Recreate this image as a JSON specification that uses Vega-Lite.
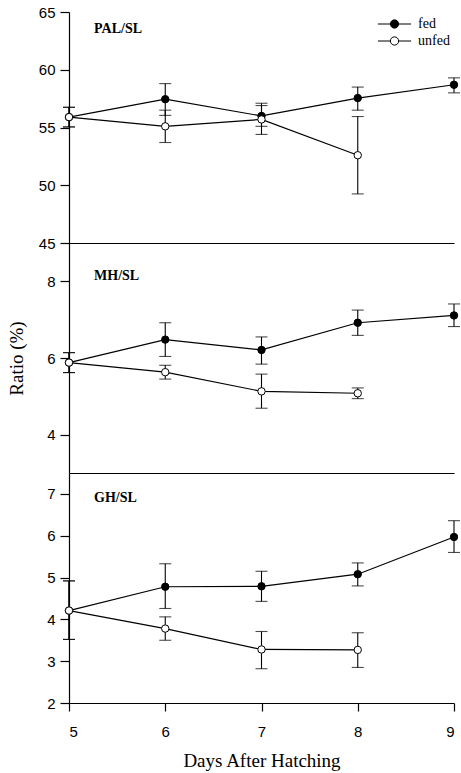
{
  "$schema": "https://vega.github.io/schema/vega-lite/v6.json",
  "background": "white",
  "padding": {"left": 7, "top": 5, "right": 2, "bottom": 4},
  "spacing": 0,
  "bounds": "flush",
  "config": {
    "view": {"stroke": null},
    "axis": {
      "domainColor": "black", "domainWidth": 1.2, "tickColor": "black", "tickWidth": 1.2,
      "labelColor": "black", "labelFont": "Liberation Sans", "labelFontSize": 15,
      "titleColor": "black", "titleFont": "Liberation Serif", "titleFontSize": 19, "titleFontWeight": "normal",
      "grid": false
    }
  },
  "resolve": {"scale": {"fill": "independent"}, "legend": {"fill": "independent"}},
  "datasets": {
    "obs": [
      {"panel": "PAL/SL", "day": 5, "group": "fed", "mean": 55.9, "lo": 55.05, "hi": 56.75},
      {"panel": "PAL/SL", "day": 5, "group": "unfed", "mean": 55.9, "lo": 55.05, "hi": 56.75},
      {"panel": "PAL/SL", "day": 6, "group": "fed", "mean": 57.45, "lo": 56.05, "hi": 58.8},
      {"panel": "PAL/SL", "day": 6, "group": "unfed", "mean": 55.1, "lo": 53.7, "hi": 56.5},
      {"panel": "PAL/SL", "day": 7, "group": "fed", "mean": 56.0, "lo": 55.1, "hi": 57.1},
      {"panel": "PAL/SL", "day": 7, "group": "unfed", "mean": 55.7, "lo": 54.4, "hi": 56.9},
      {"panel": "PAL/SL", "day": 8, "group": "fed", "mean": 57.55, "lo": 56.5, "hi": 58.5},
      {"panel": "PAL/SL", "day": 8, "group": "unfed", "mean": 52.6, "lo": 49.25, "hi": 55.95},
      {"panel": "PAL/SL", "day": 9, "group": "fed", "mean": 58.7, "lo": 58.0, "hi": 59.3},
      {"panel": "MH/SL", "day": 5, "group": "fed", "mean": 5.88, "lo": 5.62, "hi": 6.14},
      {"panel": "MH/SL", "day": 5, "group": "unfed", "mean": 5.88, "lo": 5.62, "hi": 6.14},
      {"panel": "MH/SL", "day": 6, "group": "fed", "mean": 6.48, "lo": 6.04, "hi": 6.92},
      {"panel": "MH/SL", "day": 6, "group": "unfed", "mean": 5.63, "lo": 5.45, "hi": 5.81},
      {"panel": "MH/SL", "day": 7, "group": "fed", "mean": 6.21, "lo": 5.84, "hi": 6.55},
      {"panel": "MH/SL", "day": 7, "group": "unfed", "mean": 5.13, "lo": 4.69, "hi": 5.58},
      {"panel": "MH/SL", "day": 8, "group": "fed", "mean": 6.92, "lo": 6.59, "hi": 7.25},
      {"panel": "MH/SL", "day": 8, "group": "unfed", "mean": 5.08, "lo": 4.94, "hi": 5.22},
      {"panel": "MH/SL", "day": 9, "group": "fed", "mean": 7.11, "lo": 6.82, "hi": 7.41},
      {"panel": "GH/SL", "day": 5, "group": "fed", "mean": 4.21, "lo": 3.52, "hi": 4.92},
      {"panel": "GH/SL", "day": 5, "group": "unfed", "mean": 4.21, "lo": 3.52, "hi": 4.92},
      {"panel": "GH/SL", "day": 6, "group": "fed", "mean": 4.78, "lo": 4.26, "hi": 5.33},
      {"panel": "GH/SL", "day": 6, "group": "unfed", "mean": 3.78, "lo": 3.5, "hi": 4.06},
      {"panel": "GH/SL", "day": 7, "group": "fed", "mean": 4.79, "lo": 4.43, "hi": 5.15},
      {"panel": "GH/SL", "day": 7, "group": "unfed", "mean": 3.28, "lo": 2.82, "hi": 3.71},
      {"panel": "GH/SL", "day": 8, "group": "fed", "mean": 5.08, "lo": 4.8, "hi": 5.35},
      {"panel": "GH/SL", "day": 8, "group": "unfed", "mean": 3.27, "lo": 2.85, "hi": 3.68},
      {"panel": "GH/SL", "day": 9, "group": "fed", "mean": 5.97, "lo": 5.6, "hi": 6.36}
    ]
  },
  "vconcat": [
    {
      "width": 385, "height": 231,
      "data": {"name": "obs"},
      "transform": [{"filter": "datum.panel === 'PAL/SL'"}],
      "layer": [
        {"mark": {"type": "rule", "color": "black", "strokeWidth": 1.1},
         "encoding": {
           "x": {"field": "day", "type": "quantitative", "scale": {"domain": [5, 9], "nice": false, "zero": false}, "axis": {"labels": false, "ticks": false, "title": null}},
           "y": {"field": "lo", "type": "quantitative", "scale": {"domain": [45, 65], "nice": false, "zero": false}, "axis": {"values": [45, 50, 55, 60, 65], "tickSize": 9, "labelPadding": 5, "title": null}},
           "y2": {"field": "hi"}}},
        {"mark": {"type": "tick", "orient": "horizontal", "color": "black", "size": 12, "thickness": 1.1},
         "encoding": {"x": {"field": "day", "type": "quantitative"}, "y": {"field": "lo", "type": "quantitative"}}},
        {"mark": {"type": "tick", "orient": "horizontal", "color": "black", "size": 12, "thickness": 1.1},
         "encoding": {"x": {"field": "day", "type": "quantitative"}, "y": {"field": "hi", "type": "quantitative"}}},
        {"mark": {"type": "line", "color": "black", "strokeWidth": 1.2},
         "encoding": {"x": {"field": "day", "type": "quantitative"}, "y": {"field": "mean", "type": "quantitative"}, "detail": {"field": "group"}}},
        {"mark": {"type": "point", "filled": true, "size": 55, "stroke": "black", "strokeWidth": 1, "opacity": 1},
         "encoding": {"x": {"field": "day", "type": "quantitative"}, "y": {"field": "mean", "type": "quantitative"},
           "fill": {"field": "group", "type": "nominal", "scale": {"domain": ["fed", "unfed"], "range": ["black", "white"]},
             "legend": {"orient": "top-right", "title": null, "offset": 2, "padding": 2,
               "symbolType": "M-1,0L-0.25,0M0.25,0L1,0M0.25,0A0.25,0.25,0,1,1,-0.25,0A0.25,0.25,0,1,1,0.25,0",
               "symbolSize": 1100, "symbolStrokeColor": "black", "symbolStrokeWidth": 1,
               "labelFont": "Liberation Serif", "labelFontSize": 14, "labelColor": "black", "clipHeight": 16, "labelOffset": 6, "rowPadding": 1}}}},
        {"data": {"values": [{"label": "PAL/SL"}]},
         "mark": {"type": "text", "align": "left", "baseline": "middle", "font": "Liberation Serif", "fontSize": 14, "fontWeight": "bold", "color": "black"},
         "encoding": {"x": {"datum": 5.26}, "y": {"datum": 63.5}, "text": {"field": "label"}}}
      ]
    },
    {
      "width": 385, "height": 230,
      "data": {"name": "obs"},
      "transform": [{"filter": "datum.panel === 'MH/SL'"}],
      "layer": [
        {"mark": {"type": "rule", "color": "black", "strokeWidth": 1.1},
         "encoding": {
           "x": {"field": "day", "type": "quantitative", "scale": {"domain": [5, 9], "nice": false, "zero": false}, "axis": {"labels": false, "ticks": false, "title": null}},
           "y": {"field": "lo", "type": "quantitative", "scale": {"domain": [3, 9], "nice": false, "zero": false}, "axis": {"values": [4, 6, 8], "tickSize": 9, "labelPadding": 5, "title": "Ratio (%)", "titleX": -43, "titleBaseline": "bottom"}},
           "y2": {"field": "hi"}}},
        {"mark": {"type": "tick", "orient": "horizontal", "color": "black", "size": 12, "thickness": 1.1},
         "encoding": {"x": {"field": "day", "type": "quantitative"}, "y": {"field": "lo", "type": "quantitative"}}},
        {"mark": {"type": "tick", "orient": "horizontal", "color": "black", "size": 12, "thickness": 1.1},
         "encoding": {"x": {"field": "day", "type": "quantitative"}, "y": {"field": "hi", "type": "quantitative"}}},
        {"mark": {"type": "line", "color": "black", "strokeWidth": 1.2},
         "encoding": {"x": {"field": "day", "type": "quantitative"}, "y": {"field": "mean", "type": "quantitative"}, "detail": {"field": "group"}}},
        {"mark": {"type": "point", "filled": true, "size": 55, "stroke": "black", "strokeWidth": 1, "opacity": 1},
         "encoding": {"x": {"field": "day", "type": "quantitative"}, "y": {"field": "mean", "type": "quantitative"},
           "fill": {"field": "group", "type": "nominal", "scale": {"domain": ["fed", "unfed"], "range": ["black", "white"]}, "legend": null}}},
        {"data": {"values": [{"label": "MH/SL"}]},
         "mark": {"type": "text", "align": "left", "baseline": "middle", "font": "Liberation Serif", "fontSize": 14, "fontWeight": "bold", "color": "black"},
         "encoding": {"x": {"datum": 5.26}, "y": {"datum": 8.15}, "text": {"field": "label"}}}
      ]
    },
    {
      "width": 385, "height": 230,
      "data": {"name": "obs"},
      "transform": [{"filter": "datum.panel === 'GH/SL'"}],
      "layer": [
        {"mark": {"type": "rule", "color": "black", "strokeWidth": 1.1},
         "encoding": {
           "x": {"field": "day", "type": "quantitative", "scale": {"domain": [5, 9], "nice": false, "zero": false}, "axis": {"values": [5, 6, 7, 8, 9], "format": "d", "tickSize": 8, "labelPadding": 13, "title": "Days After Hatching", "titlePadding": 12}},
           "y": {"field": "lo", "type": "quantitative", "scale": {"domain": [2, 7.5], "nice": false, "zero": false}, "axis": {"values": [2, 3, 4, 5, 6, 7], "tickSize": 9, "labelPadding": 5, "title": null}},
           "y2": {"field": "hi"}}},
        {"mark": {"type": "tick", "orient": "horizontal", "color": "black", "size": 12, "thickness": 1.1},
         "encoding": {"x": {"field": "day", "type": "quantitative"}, "y": {"field": "lo", "type": "quantitative"}}},
        {"mark": {"type": "tick", "orient": "horizontal", "color": "black", "size": 12, "thickness": 1.1},
         "encoding": {"x": {"field": "day", "type": "quantitative"}, "y": {"field": "hi", "type": "quantitative"}}},
        {"mark": {"type": "line", "color": "black", "strokeWidth": 1.2},
         "encoding": {"x": {"field": "day", "type": "quantitative"}, "y": {"field": "mean", "type": "quantitative"}, "detail": {"field": "group"}}},
        {"mark": {"type": "point", "filled": true, "size": 55, "stroke": "black", "strokeWidth": 1, "opacity": 1},
         "encoding": {"x": {"field": "day", "type": "quantitative"}, "y": {"field": "mean", "type": "quantitative"},
           "fill": {"field": "group", "type": "nominal", "scale": {"domain": ["fed", "unfed"], "range": ["black", "white"]}, "legend": null}}},
        {"data": {"values": [{"label": "GH/SL"}]},
         "mark": {"type": "text", "align": "left", "baseline": "middle", "font": "Liberation Serif", "fontSize": 14, "fontWeight": "bold", "color": "black"},
         "encoding": {"x": {"datum": 5.26}, "y": {"datum": 6.9}, "text": {"field": "label"}}}
      ]
    }
  ]
}
